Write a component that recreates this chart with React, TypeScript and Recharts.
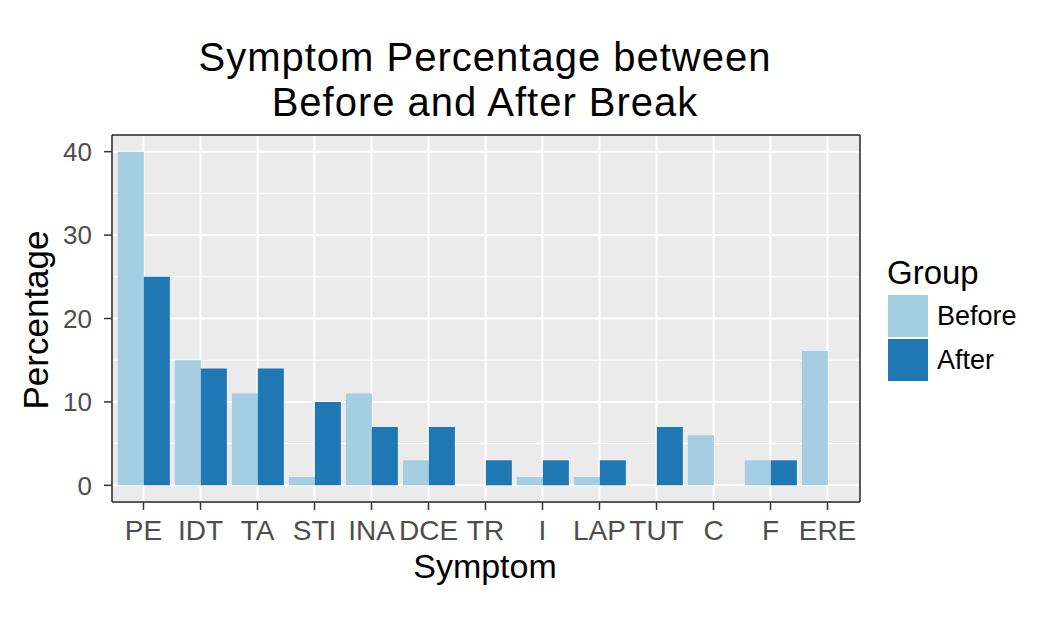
import {
  BarChart, Bar, XAxis, YAxis, CartesianGrid,
} from 'recharts';

const symptoms = ['PE', 'IDT', 'TA', 'STI', 'INA', 'DCE', 'TR', 'I', 'LAP', 'TUT', 'C', 'F', 'ERE'];
const beforeValues = [40, 15, 11, 1, 11, 3, 0, 1, 1, 0, 6, 3, 16.1];
const afterValues = [25, 14, 14, 10, 7, 7, 3, 3, 3, 7, 0, 3, 0];
const yTicks = [0, 10, 20, 30, 40];
const yMinorTicks = [5, 15, 25, 35];

const groups = [
  { key: 'before', name: 'Before', color: '#A6CEE3' },
  { key: 'after',  name: 'After',  color: '#1F78B4' },
];

const data = symptoms.map((s, i) => ({
  symptom: s,
  before:  beforeValues[i],
  after:   afterValues[i],
}));

const FONT = '"Liberation Sans", Arial, Helvetica, sans-serif';
const BORDER = { stroke: '#222222', strokeWidth: 1.5 };

export default function App() {
  return (
    <div style={{ position: 'relative', width: 1045, height: 609, fontFamily: FONT, background: '#fff' }}>
      <div
        style={{
          position: 'absolute', left: 77, top: 27, width: 800,
          textAlign: 'center', fontSize: 40, lineHeight: '45px', letterSpacing: 1, color: '#000',
        }}
      >
        Symptom Percentage between<br />Before and After Break
      </div>

      <BarChart
        width={1045}
        height={609}
        data={data}
        margin={{ top: 126, right: 192, bottom: 75, left: 0 }}
        barCategoryGap="5%"
        barGap={0}
      >
        <CartesianGrid fill="#EBEBEB" stroke="#FFFFFF" strokeWidth={2} />
        <CartesianGrid
          stroke="#FFFFFF"
          strokeWidth={1}
          vertical={false}
          horizontalValues={yMinorTicks}
        />
        <XAxis
          dataKey="symptom"
          height={40}
          interval={0}
          padding={{ left: 3, right: 4 }}
          axisLine={BORDER}
          tickSize={8}
          tickMargin={10}
          tickLine={{ stroke: '#333333', strokeWidth: 1.5 }}
          tick={{ fill: '#4D4D4D', fontSize: 28 }}
        />
        <XAxis
          xAxisId="top"
          orientation="top"
          dataKey="symptom"
          height={1}
          axisLine={BORDER}
          tick={false}
          tickLine={false}
        />
        <YAxis
          width={104}
          domain={[-2, 42]}
          ticks={yTicks}
          allowDataOverflow
          axisLine={BORDER}
          tickSize={8}
          tickMargin={12}
          tickLine={{ stroke: '#333333', strokeWidth: 1.5 }}
          tick={{ fill: '#4D4D4D', fontSize: 26 }}
        />
        <YAxis
          yAxisId="right"
          orientation="right"
          width={1}
          domain={[-2, 42]}
          axisLine={BORDER}
          tick={false}
          tickLine={false}
        />
        {groups.map(g => (
          <Bar key={g.key} dataKey={g.key} name={g.name} fill={g.color} isAnimationActive={false} />
        ))}
      </BarChart>

      {/* axis titles */}
      <div
        style={{
          position: 'absolute', left: 77, top: 541, width: 800,
          textAlign: 'center', fontSize: 34, lineHeight: '34px', color: '#000',
        }}
      >
        Symptom
      </div>
      <div
        style={{
          position: 'absolute', left: -122, top: 295, width: 300, height: 34,
          textAlign: 'center', fontSize: 35, lineHeight: '34px', color: '#000',
          transform: 'rotate(-90deg)',
        }}
      >
        Percentage
      </div>

      {/* legend */}
      <div style={{ position: 'absolute', left: 879, top: 248 }}>
        <div style={{ fontSize: 33, lineHeight: '33px', color: '#000', marginBottom: 6 }}>Group</div>
        {groups.map(g => (
          <div key={g.key} style={{ display: 'flex', alignItems: 'center', height: 42, marginBottom: 2 }}>
            <div style={{ width: 40, height: 42, background: g.color, marginLeft: 1 }} />
            <span style={{ fontSize: 27, marginLeft: 9, color: '#000' }}>{g.name}</span>
          </div>
        ))}
      </div>
    </div>
  );
}
